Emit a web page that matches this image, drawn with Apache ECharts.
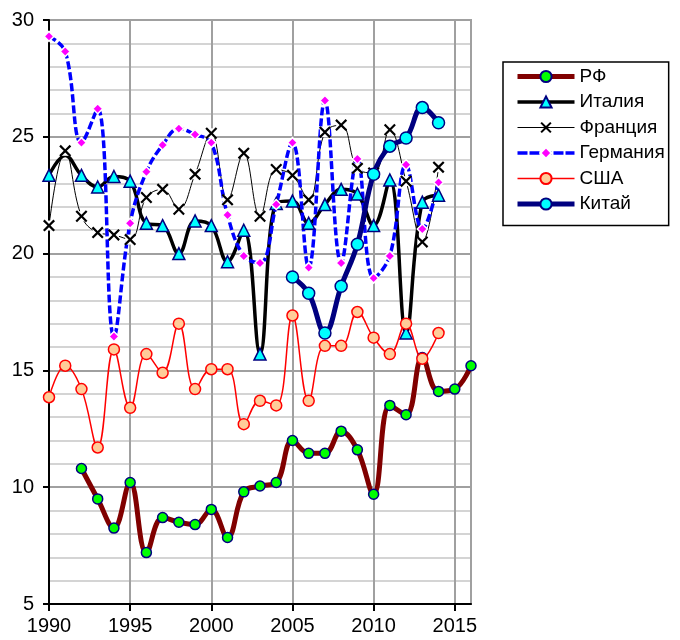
<!DOCTYPE html>
<html>
<head>
<meta charset="utf-8">
<script src="https://cdn.jsdelivr.net/npm/echarts@6/dist/echarts.min.js"></script>
<style>
  html, body { margin: 0; padding: 0; background: #fff; }
  #chart { width: 680px; height: 640px; }
</style>
</head>
<body>
<div id="chart"></div>
<script>
// годы 1990..2016
var years = [1990,1991,1992,1993,1994,1995,1996,1997,1998,1999,2000,2001,2002,2003,2004,2005,2006,2007,2008,2009,2010,2011,2012,2013,2014,2015,2016];

var rf      = [null,null,10.8,9.5,8.25,10.2,7.2,8.7,8.5,8.4,9.05,7.85,9.8,10.05,10.2,12.0,11.45,11.45,12.4,11.6,9.7,13.5,13.1,15.55,14.1,14.2,15.2];
var italy   = [23.35,24.2,23.35,22.85,23.3,23.1,21.3,21.2,20.0,21.4,21.2,19.65,21.0,15.7,22.15,22.25,21.3,22.1,22.75,22.55,21.2,23.15,16.6,22.2,22.5,null,null];
var france  = [21.2,24.4,21.6,20.9,20.8,20.6,22.4,22.75,21.9,23.4,25.15,22.3,24.3,21.6,23.6,23.35,22.3,25.2,25.5,23.65,23.45,25.3,23.1,20.5,23.7,null,null];
var germany = [29.3,28.65,24.75,26.2,16.45,21.3,23.5,24.65,25.35,25.1,24.75,21.65,19.9,19.6,22.1,24.75,19.4,26.55,19.6,24.05,18.95,19.9,23.8,21.05,23.05,null,null];
var usa     = [13.85,15.2,14.2,11.7,15.9,13.4,15.7,14.9,17.0,14.2,15.05,15.05,12.7,13.7,13.5,17.35,13.7,16.05,16.05,17.5,16.4,15.7,17.0,15.5,16.6,null,null];
var china   = [null,null,null,null,null,null,null,null,null,null,null,null,null,null,null,19.0,18.3,16.6,18.6,20.4,23.4,24.6,24.95,26.25,25.6,null,null];

var names = ['РФ', 'Италия', 'Франция', 'Германия', 'США', 'Китай'];

// пары [год, значение]
function pairs (arr) {
  return years.map(function (y, i) { return [y, arr[i]]; });
}

// у Италии в 1991 маркер спрятан под крестиком Франции
var italyData = pairs(italy).map(function (p) {
  return p[0] === 1991 ? { value: p, symbol: 'none' } : p;
});

var font = 'Liberation Sans, Arial, sans-serif';
var xMark = 'path://M0,1.3L1.3,0L5,3.7L8.7,0L10,1.3L6.3,5L10,8.7L8.7,10L5,6.3L1.3,10L0,8.7L3.7,5Z';

var myChart = echarts.init(document.getElementById('chart'));

var option = {
  animation: false,
  backgroundColor: '#fff',
  grid: {
    left: 49, right: 209, top: 20, bottom: 36,
    show: true,
    borderColor: '#a0a0a0',
    borderWidth: 2
  },
  legend: {
    data: [
      { name: 'РФ', lineStyle: { width: 5 } },
      { name: 'Италия', lineStyle: { width: 3.5 } },
      { name: 'Франция', lineStyle: { width: 1 } },
      { name: 'Германия', lineStyle: { width: 3.5, type: [10, 2] } },
      { name: 'США', lineStyle: { width: 1.5 } },
      { name: 'Китай', lineStyle: { width: 5 } }
    ],
    orient: 'vertical',
    left: 503,
    top: 62,
    itemWidth: 57,
    itemHeight: 14,
    itemGap: 6.5,
    padding: [5, 4, 12, 12],
    borderColor: '#000',
    borderWidth: 1.5,
    backgroundColor: '#fff',
    textStyle: { fontSize: 19, fontFamily: font, color: '#000' }
  },
  xAxis: {
    type: 'value',
    min: 1990,
    max: 2016,
    interval: 5,
    axisLine: { lineStyle: { color: '#000', width: 2 } },
    axisTick: { show: true, length: 7, lineStyle: { color: '#000', width: 2 } },
    axisLabel: {
      fontSize: 20, fontFamily: font, color: '#000', margin: 12, showMaxLabel: false,
      formatter: function (v) { return String(v); }
    },
    splitLine: { show: true, lineStyle: { color: '#a0a0a0', width: 2 } }
  },
  yAxis: {
    type: 'value',
    min: 5,
    max: 30,
    interval: 5,
    axisLine: { show: true, lineStyle: { color: '#000', width: 2 } },
    axisTick: { show: true, length: 6, lineStyle: { color: '#000', width: 2 } },
    axisLabel: { fontSize: 20, fontFamily: font, color: '#000', margin: 15 },
    splitLine: { show: true, lineStyle: { color: '#a0a0a0', width: 2 } },
    minorTick: { show: false, splitNumber: 5 },
    minorSplitLine: { show: true, lineStyle: { color: '#d4d4d4', width: 2 } }
  },
  series: [
    {
      name: 'РФ', type: 'line', smooth: 0.4, data: pairs(rf),
      symbol: 'circle', symbolSize: 10,
      lineStyle: { color: '#800000', width: 5 },
      itemStyle: { color: '#00ff00', borderColor: '#000080', borderWidth: 1.5 }
    },
    {
      name: 'Италия', type: 'line', smooth: 0.4, data: italyData,
      symbol: 'triangle', symbolSize: 12,
      lineStyle: { color: '#000', width: 3.5 },
      itemStyle: { color: '#00ffff', borderColor: '#000080', borderWidth: 1.5 }
    },
    {
      // белая подложка под крестиками
      name: 'bg', type: 'line', data: pairs(france),
      symbol: 'rect', symbolSize: 10,
      lineStyle: { opacity: 0 },
      itemStyle: { color: '#fff' },
      silent: true
    },
    {
      name: 'Франция', type: 'line', smooth: 0.4, data: pairs(france),
      symbol: xMark, symbolSize: 12,
      lineStyle: { color: '#000', width: 1 },
      itemStyle: { color: '#000' }
    },
    {
      name: 'Германия', type: 'line', smooth: 0.4, data: pairs(germany),
      symbol: 'diamond', symbolSize: 10,
      lineStyle: { color: '#0000ff', width: 3.5, type: [8, 3] },
      itemStyle: { color: '#ff00ff', borderColor: '#fff', borderWidth: 1.5 }
    },
    {
      name: 'США', type: 'line', smooth: 0.4, data: pairs(usa),
      symbol: 'circle', symbolSize: 11,
      lineStyle: { color: '#ff0000', width: 1.5 },
      itemStyle: { color: '#ffcc99', borderColor: '#ff0000', borderWidth: 1.5 }
    },
    {
      name: 'Китай', type: 'line', smooth: 0.4, data: pairs(china),
      symbol: 'circle', symbolSize: 12,
      lineStyle: { color: '#000080', width: 5 },
      itemStyle: { color: '#00ffff', borderColor: '#000080', borderWidth: 1.5 }
    }
  ]
};

myChart.setOption(option);
</script>
</body>
</html>
